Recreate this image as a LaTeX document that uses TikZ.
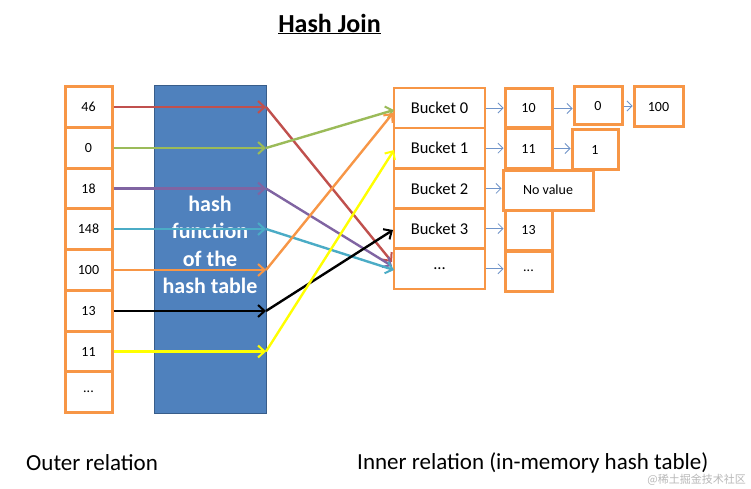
\documentclass[tikz,border=0pt]{standalone}
\usepackage{fontspec}
\setmainfont{Carlito}
\newfontfamily\cjkfont{Noto Sans CJK SC}
\usetikzlibrary{arrows.meta}
\definecolor{ob}{HTML}{F79646}
\definecolor{hblue}{HTML}{4F81BD}
\definecolor{hbord}{HTML}{385D8A}
\definecolor{cred}{HTML}{C0504D}
\definecolor{cgreen}{HTML}{9BBB59}
\definecolor{cpurple}{HTML}{8064A2}
\definecolor{cteal}{HTML}{4BACC6}
\definecolor{corange}{HTML}{F79646}
\definecolor{cyell}{HTML}{FFFF00}
\definecolor{sblue}{HTML}{6F93C8}
\tikzset{
  obox/.style={draw=ob, line width=3pt, fill=white, minimum width=47pt, minimum height=40.7pt, inner sep=0pt, font=\fontsize{14}{16}\selectfont},
  bucketbox/.style={draw=ob, line width=2.5pt, fill=white, minimum width=91pt, minimum height=40.2pt, inner sep=0pt, font=\fontsize{16.5}{18}\selectfont},
  cbox/.style={draw=ob, line width=3pt, fill=white, inner sep=0pt, font=\fontsize{14}{16}\selectfont},
  carrow/.style={line width=2.4pt, -{Straight Barb[length=6.5pt,width=12pt,line width=2pt]}},
  sarrow/.style={draw=sblue, line width=0.8pt, -{Straight Barb[length=5pt,width=10pt,line width=0.8pt]}},
}
\begin{document}
\begin{tikzpicture}[x=1pt,y=-1pt]
\useasboundingbox (0,0) rectangle (751,489);
\fill[white] (0,0) rectangle (751,489);
% title
\node[font=\bfseries\fontsize{26}{30}\selectfont, inner sep=0pt] (title) at (329.5,24) {\underline{Hash Join}};
% hash function box
\node[draw=hbord, fill=hblue, line width=1pt, minimum width=112pt, minimum height=327pt, inner sep=0pt] (hf) at (210,249.5) {};
\node[text=white, font=\bfseries\fontsize{22}{27.5}\selectfont, align=center, inner sep=0pt] (ht) at (210,245) {hash\\function\\of the\\hash table};
% outer relation boxes
\foreach \v/\y [count=\i] in {46/107,0/148,18/188.5,148/229,100/270,13/311,11/351.5,{...}/392}
  \node[obox] (o\i) at (88.5,\y) {\v};
% coordinates on the right edge of the hash box
\foreach \y [count=\i] in {107,148,188.5,229,270,311,351.5}
  \coordinate (h\i) at (266,\y);
% buckets
\foreach \v/\y [count=\i] in {Bucket 0/108,Bucket 1/148.2,Bucket 2/188.4,Bucket 3/228.6,{...}/268.8}
  \node[bucketbox] (b\i) at (439.5,\y) {\v};
% chain boxes
\node[cbox, minimum width=47pt, minimum height=39pt] (c10) at (528.5,108.5) {10};
\node[cbox, minimum width=47pt, minimum height=40pt] (c11) at (528.5,148.5) {11};
\node[cbox, minimum width=90pt, minimum height=40pt] (cnv) at (548,190) {No value};
\node[cbox, minimum width=47pt, minimum height=40pt] (c13) at (528.5,230.5) {13};
\node[cbox, minimum width=47pt, minimum height=40pt] (cdd) at (528.5,271) {...};
\node[cbox, minimum width=48pt, minimum height=38pt] (c0) at (598,106) {0};
\node[cbox, minimum width=49pt, minimum height=40pt] (c100) at (658.5,107) {100};
\node[cbox, minimum width=46pt, minimum height=39pt] (c1) at (595,149.5) {1};
% small blue arrows
\draw[sarrow] (b1.east) -- (b1.east -| c10.west);
\draw[sarrow] (b2.east) -- (b2.east -| c11.west);
\draw[sarrow] (b3.east) -- (b3.east -| cnv.west);
\draw[sarrow] (b4.east) -- (b4.east -| c13.west);
\draw[sarrow] (b5.east) -- (b5.east -| cdd.west);
\draw[sarrow] (c10.east) -- (c10.east -| c0.west);
\draw[sarrow] (c0.east) -- (c0.east -| c100.west);
\draw[sarrow] (c11.east) -- (c11.east -| c1.west);
% target coordinates at buckets
\coordinate (tr) at (392,262);
\coordinate (tg) at (394,110);
\coordinate (tp) at (392,266);
\coordinate (tt) at (394,270);
\coordinate (to) at (393,113);
\coordinate (tk) at (393,230);
\coordinate (ty) at (394,150);
% colored arrows into hash box
\draw[carrow, cred] (o1.east) -- (h1);
\draw[carrow, cgreen] (o2.east) -- (h2);
\draw[carrow, cpurple] (o3.east) -- (h3);
\draw[carrow, cteal] (o4.east) -- (h4);
\draw[carrow, corange] (o5.east) -- (h5);
\draw[carrow, black] (o6.east) -- (h6);
\draw[carrow, cyell] (o7.east) -- (h7);
% colored arrows to buckets
\draw[carrow, cred] (h1) -- (tr);
\draw[carrow, cgreen] (h2) -- (tg);
\draw[carrow, cpurple] (h3) -- (tp);
\draw[carrow, cteal] (h4) -- (tt);
\draw[carrow, corange] (h5) -- (to);
\draw[carrow, black] (h6) -- (tk);
\draw[carrow, cyell] (h7) -- (ty);
% labels
\node[font=\fontsize{23}{27}\selectfont, anchor=west, inner sep=0pt] (outer) at (26,463) {Outer relation};
\node[font=\fontsize{23}{27}\selectfont, anchor=west, inner sep=0pt] (inner) at (357,463) {Inner relation (in-memory hash table)};
\node[font=\cjkfont\fontsize{11}{13}\selectfont, text=black!28, inner sep=0pt, anchor=east] (wm) at (746,480) {@稀土掘金技术社区};
\end{tikzpicture}
\end{document}
